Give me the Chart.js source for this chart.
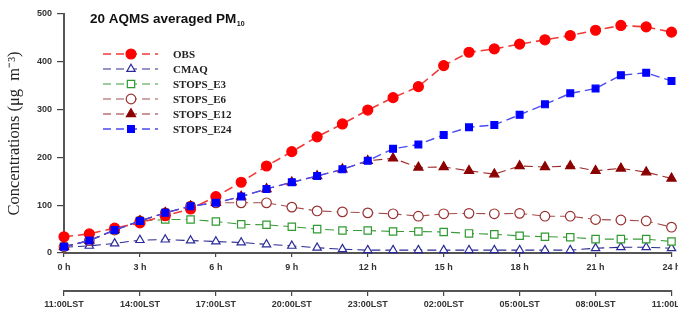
<!DOCTYPE html>
<html>
<head>
<meta charset="utf-8">
<script src="https://cdn.jsdelivr.net/npm/chart.js@4/dist/chart.umd.min.js"></script>
<style>
  html, body { margin: 0; padding: 0; background: #fff; }
  #wrap { width: 678px; height: 312px; }
</style>
</head>
<body>
<div id="wrap"><canvas id="pmChart" width="678" height="312"></canvas></div>
<script>
// hours since 11:00 LST
const hours = [0, 1, 2, 3, 4, 5, 6, 7, 8, 9, 10, 11, 12, 13, 14, 15, 16, 17, 18, 19, 20, 21, 22, 23, 24];
const lstLabels = ['11:00LST', '14:00LST', '17:00LST', '20:00LST', '23:00LST', '02:00LST', '05:00LST', '08:00LST', '11:00LST'];

const obs   = [34, 40, 52, 63, 78, 92, 118, 148, 182, 212, 243, 270, 299, 325, 348, 392, 420, 427, 437, 446, 455, 466, 476, 473, 462];
const cmaq  = [12, 15, 20, 27, 28, 26, 24, 22, 18, 15, 11, 8, 6, 6, 6, 6, 6, 6, 6, 6, 6, 10, 12, 12, 10];
const e3    = [13, 26, 48, 67, 70, 70, 66, 60, 59, 55, 50, 47, 47, 45, 45, 44, 41, 39, 36, 34, 33, 29, 29, 29, 24];
const e6    = [13, 26, 48, 67, 84, 98, 105, 105, 105, 96, 88, 86, 84, 82, 77, 82, 83, 82, 83, 77, 77, 70, 69, 67, 54];
const e12   = [13, 26, 48, 67, 84, 98, 105, 118, 134, 148, 161, 175, 193, 198, 179, 180, 172, 165, 182, 180, 182, 172, 177, 169, 156];
const e24   = [13, 26, 48, 67, 84, 98, 105, 118, 134, 148, 161, 175, 193, 218, 227, 247, 263, 268, 289, 311, 334, 344, 372, 377, 360];

const toXY = arr => arr.map((v, i) => ({ x: hours[i], y: v }));

function series(label, values, line, marker, fill, style, radius, width, order) {
    return {
        label: label,
        data: toXY(values),
        borderColor: line,
        borderWidth: width,
        borderDash: [9, 5],
        pointStyle: style,
        pointRadius: radius,
        pointHoverRadius: radius,
        pointBackgroundColor: fill,
        pointBorderColor: marker,
        pointBorderWidth: 1.2,
        tension: 0,
        clip: false,
        order: order
    };
}

const datasets = [
    series('OBS', obs, '#f03a3a', '#ff0000', '#ff0000', 'circle', 5, 1.6, 1),
    series('CMAQ', cmaq, '#2a2a8e', '#2a2a9a', '#ffffff', 'triangle', 4.8, 1.1, 5),
    series('STOPS_E3', e3, '#3a9a3a', '#2f9a2f', '#ffffff', 'rect', 5.2, 1.1, 4),
    series('STOPS_E6', e6, '#a24c4c', '#9a3030', '#ffffff', 'circle', 4.8, 1.1, 3),
    series('STOPS_E12', e12, '#9a2a2a', '#8b0000', '#8b0000', 'triangle', 5.3, 1.1, 2),
    series('STOPS_E24', e24, '#4a4af0', '#0000ff', '#0000ff', 'rect', 4.8, 1.4, 0)
];

const tickFont = { family: '"Liberation Sans", Arial, sans-serif', size: 9, weight: 'bold' };

// title + legend drawn inside the plot
const insidePlugin = {
    id: 'insideBits',
    afterDatasetsDraw(chart) {
        const ctx = chart.ctx;
        ctx.save();
        ctx.fillStyle = '#111';
        ctx.textBaseline = 'alphabetic';
        ctx.font = 'bold 13.5px "Liberation Sans", Arial, sans-serif';
        const main = '20 AQMS averaged PM';
        ctx.fillText(main, 90, 23);
        const w = ctx.measureText(main).width;
        ctx.font = 'bold 7px "Liberation Sans", Arial, sans-serif';
        ctx.fillText('10', 90 + w + 0.5, 26);

        chart.data.datasets.forEach((ds, i) => {
            const y = 54 + i * 15;
            ctx.strokeStyle = ds.borderColor;
            ctx.lineWidth = ds.borderWidth;
            ctx.setLineDash([8, 5]);
            ctx.beginPath();
            ctx.moveTo(103, y);
            ctx.lineTo(158, y);
            ctx.stroke();
            ctx.setLineDash([]);
            ctx.fillStyle = ds.pointBackgroundColor;
            ctx.strokeStyle = ds.pointBorderColor;
            ctx.lineWidth = ds.pointBorderWidth;
            Chart.helpers.drawPoint(ctx, {
                pointStyle: ds.pointStyle,
                radius: ds.pointRadius,
                borderWidth: ds.pointBorderWidth,
                rotation: 0
            }, 131, y);
            ctx.fillStyle = '#222';
            ctx.font = 'bold 11px "Liberation Serif", "Times New Roman", serif';
            ctx.textBaseline = 'middle';
            ctx.fillText(ds.label, 173, y + 1);
        });
        ctx.restore();
    }
};

const ctx = document.getElementById('pmChart').getContext('2d');

const pmChart = new Chart(ctx, {
    type: 'line',
    data: { datasets: datasets },
    options: {
        responsive: false,
        animation: false,
        events: [],
        layout: { padding: { top: 14, right: 4, left: 0, bottom: 0 } },
        plugins: {
            legend: { display: false },
            tooltip: { enabled: false }
        },
        scales: {
            x: {
                type: 'linear',
                position: 'bottom',
                min: 0,
                max: 24,
                ticks: {
                    stepSize: 3,
                    color: '#333',
                    font: tickFont,
                    padding: 5,
                    maxRotation: 0,
                    callback: v => v + ' h'
                },
                grid: { drawOnChartArea: false, tickLength: 4, color: '#444', lineWidth: 1.2 },
                border: { display: true, color: '#555', width: 2 },
                afterFit(scale) {
                    scale.height = 38;
                    scale.paddingLeft = 0;
                    scale.paddingRight = 0;
                }
            },
            x2: {
                type: 'linear',
                position: 'bottom',
                min: 0,
                max: 24,
                ticks: {
                    stepSize: 3,
                    color: '#333',
                    font: tickFont,
                    padding: 3,
                    maxRotation: 0,
                    autoSkip: false,
                    callback: (v) => lstLabels[v / 3]
                },
                grid: { drawOnChartArea: false, tickLength: 5, color: '#444', lineWidth: 1.2 },
                border: { display: true, color: '#555', width: 2 },
                afterFit(scale) {
                    scale.height = 21;
                    scale.paddingLeft = 0;
                    scale.paddingRight = 0;
                }
            },
            y: {
                min: 0,
                max: 500,
                ticks: {
                    stepSize: 100,
                    color: '#333',
                    font: tickFont,
                    padding: 5
                },
                grid: { drawOnChartArea: false, tickLength: 7, color: '#444', lineWidth: 1.2 },
                border: { display: true, color: '#555', width: 2 },
                title: {
                    display: true,
                    text: 'Concentrations (\u03bcg  m\u207b\u00b3)',
                    color: '#222',
                    font: { family: '"Liberation Serif", "Times New Roman", serif', size: 16.5 },
                    padding: { top: 5, bottom: 0 }
                },
                afterFit(scale) {
                    scale.width = 64;
                }
            }
        }
    },
    plugins: [insidePlugin]
});
</script>
</body>
</html>
